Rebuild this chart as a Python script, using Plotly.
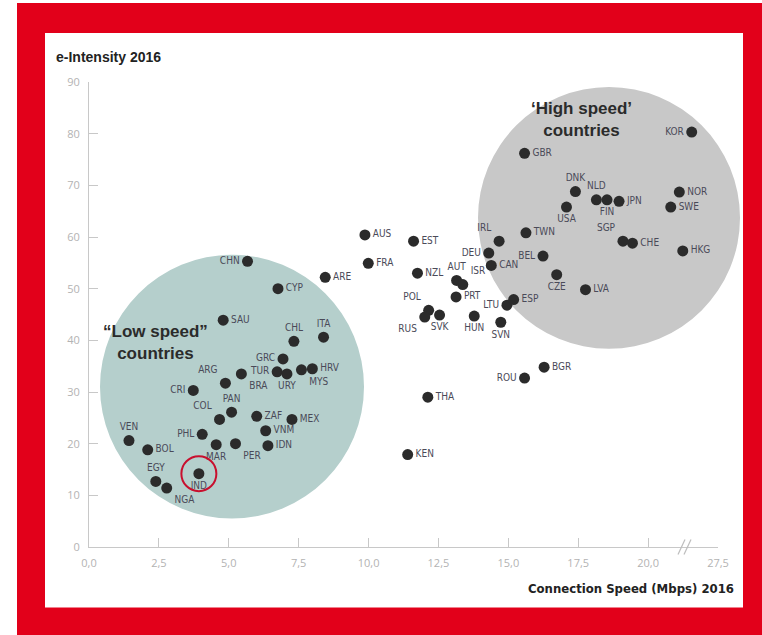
import plotly.graph_objects as go

# ---------------- data ----------------
countries = ["CHN","CYP","ARE","SAU","CHL","ITA","GRC","TUR","URY","MYS","HRV","BRA","ARG","CRI",
             "PAN","COL","ZAF","MEX","VNM","IDN","PER","MAR","PHL","VEN","BOL","EGY","NGA","IND",
             "AUS","EST","FRA","NZL","AUT","ISR","PRT","POL","RUS","SVK","HUN","SVN","LTU","ESP",
             "DEU","IRL","CAN","TWN","THA","KEN","ROU","BGR",
             "GBR","KOR","DNK","NLD","FIN","JPN","USA","NOR","SWE","SGP","CHE","HKG","BEL","CZE","LVA"]
speed = [5.67,6.76,8.45,4.80,7.33,8.39,6.94,6.73,7.08,7.60,7.99,5.45,4.88,3.73,
         5.10,4.67,6.00,7.26,6.32,6.40,5.24,4.55,4.05,1.43,2.10,2.39,2.78,3.93,
         9.87,11.61,9.99,11.75,13.15,13.37,13.13,12.15,12.01,12.54,13.78,14.73,14.95,15.19,
         14.30,14.67,14.39,15.63,12.12,11.40,15.58,16.28,
         15.58,24.68,17.40,18.15,18.53,18.96,17.08,23.35,22.43,19.10,19.44,23.72,16.24,16.73,17.76]
intensity = [55.3,50.0,52.2,43.9,39.8,40.6,36.4,33.9,33.5,34.3,34.5,33.5,31.7,30.3,
             26.1,24.7,25.3,24.7,22.5,19.6,20.0,19.8,21.8,20.6,18.8,12.7,11.4,14.2,
             60.4,59.2,54.9,53.0,51.6,50.8,48.4,45.8,44.5,44.9,44.7,43.5,46.8,47.9,
             56.9,59.2,54.5,60.8,29.0,17.9,32.7,34.8,
             76.2,80.3,68.8,67.2,67.2,66.9,65.8,68.7,65.8,59.2,58.8,57.3,56.3,52.7,49.8]
label_pos = ["middle left","middle right","middle right","middle right","top center","top center",
             "middle left","middle left","bottom center","bottom right","middle right","bottom right",
             "top left","middle left",
             "top center","top left","middle right","middle right","middle right","middle right",
             "bottom right","bottom center","middle left","top center","middle right","top center",
             "bottom right","bottom center",
             "middle right","middle right","middle right","middle right","top center","top right",
             "middle right","top left","bottom left","bottom center","bottom center","bottom center",
             "middle left","middle right",
             "middle left","top left","middle right","middle right","middle right","middle right",
             "middle left","middle right",
             "middle right","middle left","top center","top center","bottom center","middle right",
             "bottom center","middle right","middle right","top left","middle right","middle right",
             "middle left","bottom center","middle right"]
highlight = ["IND"]

x_tick_values = [0, 2.5, 5, 7.5, 10, 12.5, 15, 17.5, 20, 27.5]
x_tick_text = ["0,0","2,5","5,0","7,5","10,0","12,5","15,0","17,5","20,0","27,5"]
y_tick_values = [0, 10, 20, 30, 40, 50, 60, 70, 80, 90]

# ---------------- axis break transform ----------------
BREAK = 20.0
COMPRESS = 2.5 / 7.5   # 20 -> 27.5 drawn as one 2.5 step


def pos(v):
    return v if v <= BREAK else BREAK + (v - BREAK) * COMPRESS


xpos = [pos(v) for v in speed]
XMAX = pos(27.5)

# pixel geometry of the plot area
W, H = 762, 635
L, R, T, B = 89, 44, 82, 87.5
PW, PH = W - L - R, H - T - B


def px(xp):
    return (xp - L) / PW


def py(yp):
    return (H - B - yp) / PH


NARROW = "DejaVu Sans Condensed, Liberation Sans Narrow, Arial Narrow, Roboto, sans-serif"

fig = go.Figure()

hi_x = [xpos[countries.index(c)] for c in highlight]
hi_y = [intensity[countries.index(c)] for c in highlight]

fig.add_trace(go.Scatter(
    x=xpos, y=intensity, mode="markers+text", text=countries, textposition=label_pos,
    marker=dict(size=11, color="#2b2b2b"),
    textfont=dict(family=NARROW, size=10, color="#4a4a58"),
    cliponaxis=False, hoverinfo="text", showlegend=False))
fig.add_trace(go.Scatter(
    x=hi_x, y=hi_y, mode="markers",
    marker=dict(symbol="circle-open", size=35, color="#c8102e", line=dict(width=2, color="#c8102e")),
    cliponaxis=False, hoverinfo="skip", showlegend=False))

shapes = []
shapes.append(dict(type="rect", xref="paper", yref="paper", x0=px(17), x1=px(W + 5), y0=py(3), y1=py(H + 5),
                   fillcolor="#e2001a", line=dict(width=0), layer="below"))
shapes.append(dict(type="rect", xref="paper", yref="paper", x0=px(45), x1=px(743), y0=py(33), y1=py(608),
                   fillcolor="white", line=dict(width=0), layer="below"))
for cx, cy, r, col in [(232, 387, 132, "#b5cfcc"), (609, 218, 131, "#c8c8c8")]:
    shapes.append(dict(type="circle", xref="paper", yref="paper",
                       x0=px(cx - r), x1=px(cx + r), y0=py(cy + r), y1=py(cy - r),
                       fillcolor=col, line=dict(width=0), layer="below"))
for dx in (0, 6):
    shapes.append(dict(type="line", xref="paper", yref="paper",
                       x0=px(678 + dx), x1=px(685 + dx), y0=py(555), y1=py(540),
                       line=dict(color="#bdbdbd", width=1.2)))

annotations = [
    dict(text="<b>e-Intensity 2016</b>", xref="paper", yref="paper", x=px(54), y=py(57),
         xanchor="left", yanchor="middle", showarrow=False,
         font=dict(family="Liberation Sans, Arial, sans-serif", size=14, color="#222")),
    dict(text="<b>Connection Speed (Mbps) 2016</b>", xref="paper", yref="paper", x=px(736), y=py(589),
         xanchor="right", yanchor="middle", showarrow=False,
         font=dict(family=NARROW, size=13, color="#222")),
    dict(text="<b>“Low speed”<br>countries</b>", xref="paper", yref="paper", x=px(155), y=py(343),
         xanchor="center", yanchor="middle", showarrow=False, align="center",
         font=dict(family="Liberation Sans, Arial, sans-serif", size=17, color="#2b2b2b")),
    dict(text="<b>‘High speed’<br>countries</b>", xref="paper", yref="paper", x=px(581), y=py(120),
         xanchor="center", yanchor="middle", showarrow=False, align="center",
         font=dict(family="Liberation Sans, Arial, sans-serif", size=17, color="#2b2b2b")),
]

fig.update_layout(
    width=W, height=H, margin=dict(l=L, r=R, t=T, b=B),
    paper_bgcolor="white", plot_bgcolor="rgba(0,0,0,0)",
    shapes=shapes, annotations=annotations, showlegend=False,
    xaxis=dict(range=[0, XMAX], tickvals=[pos(v) for v in x_tick_values], ticktext=x_tick_text,
               showgrid=False, zeroline=False, showline=True, linecolor="#c8c8c8", linewidth=1,
               ticks="inside", ticklen=9, tickcolor="#c8c8c8", ticklabelstandoff=6,
               tickfont=dict(family="Open Sans, sans-serif", size=11, color="#b3b3b3")),
    yaxis=dict(range=[0, 90], tickvals=y_tick_values,
               showgrid=False, zeroline=False, showline=True, linecolor="#c8c8c8", linewidth=1,
               ticks="inside", ticklen=9, tickcolor="#c8c8c8", ticklabelstandoff=6,
               tickfont=dict(family="Open Sans, sans-serif", size=11, color="#b3b3b3")),
)

fig.write_html("out.html")
